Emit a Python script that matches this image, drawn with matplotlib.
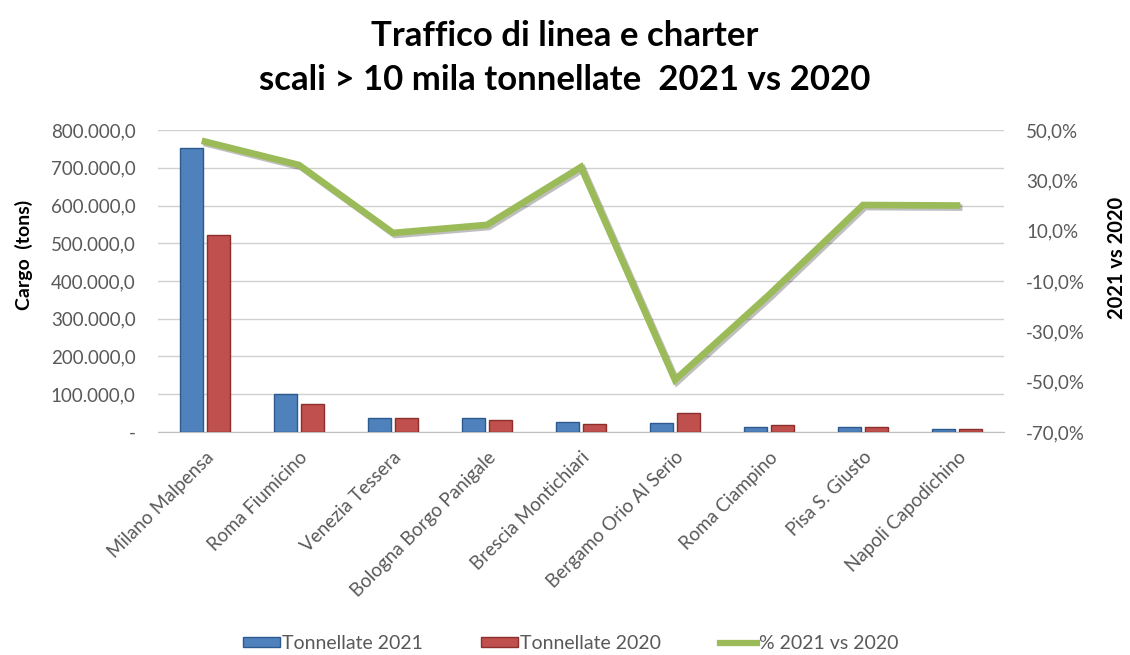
import matplotlib.pyplot as plt
import matplotlib.patheffects as pe
import matplotlib.transforms as mtrans
from matplotlib.ticker import FuncFormatter, MultipleLocator
from matplotlib.lines import Line2D
from matplotlib.patches import Patch

plt.rcParams["font.family"] = ["Lato", "DejaVu Sans"]

airports = ["Milano Malpensa", "Roma Fiumicino", "Venezia Tessera",
            "Bologna Borgo Panigale", "Brescia Montichiari", "Bergamo Orio Al Serio",
            "Roma Ciampino", "Pisa S. Giusto", "Napoli Capodichino"]
tons_2021 = [752000, 100000, 37000, 38000, 26000, 24000, 14000, 14000, 8000]
tons_2020 = [522000, 75000, 37000, 31000, 20000, 51000, 19000, 14000, 7000]
pct_change = [45.4, 36.1, 9.1, 12.3, 35.3, -49.3, -15.5, 20.2, 20.0]
pct_ticks = [-70, -50, -30, -10, 10, 30, 50]

BLUE = "#4F81BD"
BLUE_EDGE = "#2C5A8F"
RED = "#C0504D"
RED_EDGE = "#8C2F2C"
GREEN = "#9BBB59"
GRAY_TXT = "#595959"


def fmt_tons(v, pos):
    if abs(v) < 1:
        return "-"
    s = f"{v:,.1f}"
    return s.replace(",", "X").replace(".", ",").replace("X", ".")


def fmt_pct(v, pos):
    return f"{v:.1f}%".replace(".", ",")


fig = plt.figure(figsize=(11.3, 6.55), dpi=100)
ax = fig.add_axes([0.1398, 0.3405, 0.7487, 0.461])
ax2 = ax.twinx()

x = list(range(len(airports)))
w = 0.24
ax.bar([i - 0.145 for i in x], tons_2021, w, color=BLUE, edgecolor=BLUE_EDGE, linewidth=1.0, zorder=3)
ax.bar([i + 0.145 for i in x], tons_2020, w, color=RED, edgecolor=RED_EDGE, linewidth=1.0, zorder=3)

ax.set_ylim(0, 800000)
ax.set_xlim(-0.5, len(airports) - 0.5)
ax.yaxis.set_major_locator(MultipleLocator(100000))
ax.yaxis.set_major_formatter(FuncFormatter(fmt_tons))
ax.grid(axis="y", color="#D0D0D0", linewidth=1.0, zorder=0)
ax.set_axisbelow(True)

ax.set_xticks(x)
ax.set_xticklabels(airports, rotation=45, ha="right", va="top", rotation_mode="anchor",
                   fontsize=13.5, color=GRAY_TXT)
shift = mtrans.ScaledTranslation(18 / 100, 0, fig.dpi_scale_trans)
for lbl in ax.get_xticklabels():
    lbl.set_transform(lbl.get_transform() + shift)
ax.tick_params(axis="x", length=0, pad=12)
ax.tick_params(axis="y", length=0, labelsize=13.5, labelcolor=GRAY_TXT, pad=16)
ax.set_ylabel("Cargo  (tons)", fontsize=14, fontweight="bold")
ax.yaxis.set_label_coords(-0.148, 0.585)

for side in ["top", "left", "right"]:
    ax.spines[side].set_visible(False)
    ax2.spines[side].set_visible(False)
ax.spines["bottom"].set_color("#BFBFBF")
ax2.spines["bottom"].set_visible(False)

ax2.plot(x, pct_change, color=GREEN, linewidth=4.8, solid_joinstyle="miter", zorder=4,
         path_effects=[pe.SimpleLineShadow(offset=(1.5, -1.5), alpha=0.25), pe.Normal()])
ax2.set_ylim(-70, 50)
ax2.set_yticks(pct_ticks)
ax2.yaxis.set_major_formatter(FuncFormatter(fmt_pct))
ax2.tick_params(axis="y", length=0, labelsize=13.5, labelcolor=GRAY_TXT, pad=16)
ax2.set_ylabel("2021 vs 2020", fontsize=14.5, fontweight="bold", rotation=90)
ax2.yaxis.set_label_coords(1.122, 0.575)

fig.text(0.5, 0.945, "Traffico di linea e charter", ha="center", va="center",
         fontsize=25, fontweight="bold")
fig.text(0.5, 0.878, "scali > 10 mila tonnellate  2021 vs 2020", ha="center", va="center",
         fontsize=25, fontweight="bold")

handles = [Patch(facecolor=BLUE, edgecolor=BLUE_EDGE),
           Patch(facecolor=RED, edgecolor=RED_EDGE),
           Line2D([0], [0], color=GREEN, linewidth=4.5)]
labels = ["Tonnellate 2021", "Tonnellate 2020", "% 2021 vs 2020"]
leg = fig.legend(handles, labels, loc="center", bbox_to_anchor=(0.505, 0.018), ncol=3,
                 frameon=False, fontsize=14, handlelength=1.9, handleheight=0.45,
                 handletextpad=0.1, columnspacing=3.0)
for t in leg.get_texts():
    t.set_color(GRAY_TXT)

fig.savefig("out.png", dpi=100)
